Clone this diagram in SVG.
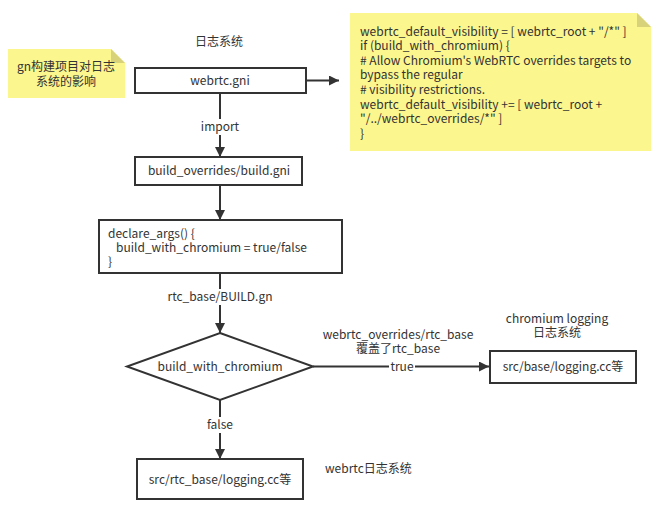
<svg xmlns="http://www.w3.org/2000/svg" width="661" height="514" viewBox="0 0 661 514">
<defs>
<marker id="ah" viewBox="0 0 10 10" refX="10" refY="5" markerWidth="10" markerHeight="10" markerUnits="userSpaceOnUse" orient="auto">
<path d="M0,0 L10,5 L0,10 Z" fill="#333"/>
</marker>
</defs>
<style>
text{font-family:"Noto Sans CJK SC","Noto Sans",sans-serif;font-size:12px;fill:#333}
.c{text-anchor:middle}
.box{fill:#fff;stroke:#333;stroke-width:2}
.note{fill:#fcf68e}
.fold{fill:#d8d27a}
.ln{stroke:#333;stroke-width:2;fill:none}
.lbl{fill:#fff}
</style>
<rect width="661" height="514" fill="#fff"/>
<g id="connectors">
<path class="ln" d="M306,80.5 H339" marker-end="url(#ah)"/>
<path class="ln" d="M220,93 V157" marker-end="url(#ah)"/>
<path class="ln" d="M220,185 V220" marker-end="url(#ah)"/>
<path class="ln" d="M220,273 V333" marker-end="url(#ah)"/>
<path class="ln" d="M313,366.5 H489" marker-end="url(#ah)"/>
<path class="ln" d="M220,400 V459" marker-end="url(#ah)"/>
<rect class="lbl" x="200" y="119" width="40" height="16"/>
<text class="c" x="220" y="131">import</text>
<rect class="lbl" x="168" y="289" width="104" height="16"/>
<text class="c" x="220" y="301">rtc_base/BUILD.gn</text>
<rect class="lbl" x="389" y="359" width="26" height="16"/>
<text class="c" x="402" y="371">true</text>
<rect class="lbl" x="206" y="417" width="28" height="16"/>
<text class="c" x="220" y="429">false</text>
</g>
<g id="title1"><text class="c" x="219" y="46">日志系统</text></g>
<g id="note-left">
<path class="note" d="M8,49 H111 L125,63 V98 H8 Z"/>
<path class="fold" d="M111,49 L125,63 H111 Z"/>
<text class="c" x="66" y="71">gn构建项目对日志</text>
<text class="c" x="66" y="86">系统的影响</text>
</g>
<g id="webrtc-gni">
<rect class="box" x="135" y="68" width="171" height="25"/>
<text class="c" x="220" y="85">webrtc.gni</text>
</g>
<g id="note-right">
<path class="note" d="M350,13 H637 L651,27 V151 H350 Z"/>
<path class="fold" d="M637,13 L651,27 H637 Z"/>
<text x="360" y="36">webrtc_default_visibility = [ webrtc_root + "/*" ]</text>
<text x="360" y="50">if (build_with_chromium) {</text>
<text x="360" y="65">#  Allow Chromium's WebRTC overrides targets to</text>
<text x="360" y="79">bypass the regular</text>
<text x="360" y="94">#  visibility restrictions.</text>
<text x="360" y="109">webrtc_default_visibility += [ webrtc_root +</text>
<text x="360" y="123">"/../webrtc_overrides/*" ]</text>
<text x="360" y="138">}</text>
</g>
<g id="build-overrides">
<rect class="box" x="135" y="157" width="167" height="28"/>
<text class="c" x="219" y="175">build_overrides/build.gni</text>
</g>
<g id="declare-args">
<rect class="box" x="99" y="220" width="243" height="53"/>
<text x="108" y="238">declare_args() {</text>
<text x="108" y="252" xml:space="preserve">   build_with_chromium = true/false</text>
<text x="108" y="266">}</text>
</g>
<g id="decision">
<path class="box" d="M220,333 L313,366.5 L220,400 L127,366.5 Z"/>
<text class="c" x="220" y="371">build_with_chromium</text>
</g>
<g id="override-label">
<text class="c" x="398" y="339">webrtc_overrides/rtc_base</text>
<text class="c" x="398" y="353">覆盖了rtc_base</text>
</g>
<g id="chromium-logging">
<text class="c" x="557" y="323">chromium logging</text>
<text class="c" x="557" y="337">日志系统</text>
<rect class="box" x="490" y="351" width="146" height="32"/>
<text class="c" x="563" y="371">src/base/logging.cc等</text>
</g>
<g id="webrtc-logging">
<rect class="box" x="137" y="459" width="166" height="40"/>
<text class="c" x="220" y="484">src/rtc_base/logging.cc等</text>
<text x="325" y="473">webrtc日志系统</text>
</g>
</svg>
